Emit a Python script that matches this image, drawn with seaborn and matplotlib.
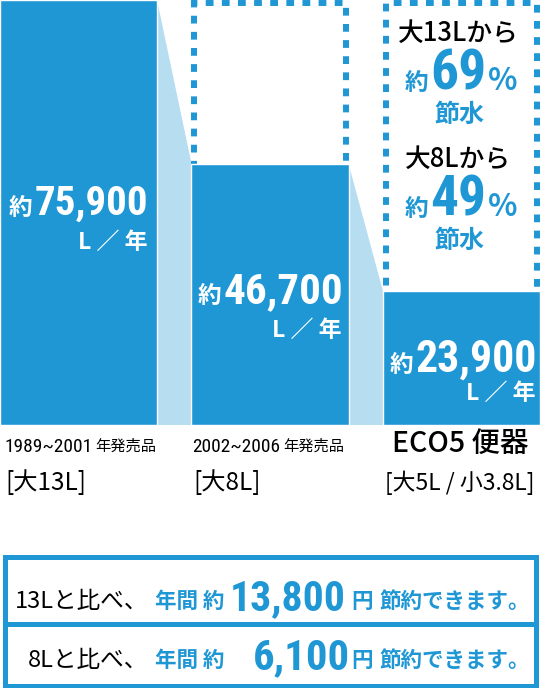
import os
import matplotlib
matplotlib.use("Agg")
import matplotlib.pyplot as plt
from matplotlib import font_manager
from matplotlib.font_manager import FontProperties
from matplotlib.patches import Rectangle
import pandas as pd
import seaborn as sns

# data
products = ["1989~2001 年発売品", "2002~2006 年発売品", "ECO5 便器"]
tank_sizes = ["[大13L]", "[大8L]", "[大5L / 小3.8L]"]
water_per_year = [75900, 46700, 23900]
number_labels = ["75,900", "46,700", "23,900"]
saving_from = ["大13Lから", "大8Lから"]
saving_pct = ["69", "49"]
compare_text = ["13Lと比べ、", "8Lと比べ、"]
yen_saved = ["13,800", "6,100"]

BLUE = "#2097d5"
LIGHT = "#b7ddf1"
W, H = 540, 688
BAR_W = 0.82
PX = water_per_year[0] / 425  # data units per pixel

CJK = "Noto Sans CJK JP"


def find_font(prefs, bold):
    files = {}
    for f in font_manager.fontManager.ttflist:
        files[os.path.basename(f.fname).rsplit(".", 1)[0]] = f.fname
    for p in prefs:
        if p in files:
            return FontProperties(fname=files[p])
    for name, path in files.items():
        n = name.lower()
        if ("condensed" in n or "narrow" in n) and "italic" not in n:
            if bold == ("bold" in n and "semi" not in n and "extra" not in n):
                return FontProperties(fname=path)
    return FontProperties(family="Roboto", weight="bold" if bold else "normal")


NARROW_B = find_font(["RobotoCondensed-Bold", "NotoSans-CondensedBold",
                      "LiberationSansNarrow-Bold", "OpenSans-CondensedBold",
                      "DejaVuSansCondensed-Bold"], True)
NARROW_R = find_font(["RobotoCondensed-Regular", "NotoSans-Condensed",
                      "LiberationSansNarrow-Regular", "DejaVuSansCondensed"],
                     False)

sns.set_theme(style="white")
plt.rcParams["font.family"] = [CJK, "DejaVu Sans"]

fig = plt.figure(figsize=(W / 100, H / 100), dpi=100)
ax = fig.add_axes([0, (H - 425) / H, 1, 425 / H])

df = pd.DataFrame({"product": products, "water": water_per_year})
sns.barplot(data=df, x="product", y="water", color=BLUE, saturation=1,
            width=BAR_W, ax=ax, zorder=3)
ax.set_xlim(-0.41, 2.41)
ax.set_ylim(0, water_per_year[0])
ax.axis("off")

# light connectors between bars
for i in range(len(water_per_year) - 1):
    x0 = i + BAR_W / 2
    x1 = i + 1 - BAR_W / 2
    ax.fill([x0, x1, x1, x0], [water_per_year[i], water_per_year[i + 1], 0, 0],
            color=LIGHT, zorder=1, lw=0)

# dashed outlines above bars 2 and 3
ins = 3 / 191.5
top = water_per_year[0] - 3 * PX
for i in (1, 2):
    y0 = water_per_year[i] - 6 * PX
    ax.add_patch(Rectangle((i - BAR_W / 2 + ins, y0), BAR_W - 2 * ins,
                           top - y0, fill=False, edgecolor=BLUE, lw=4.3,
                           linestyle=(0, (1.3, 1.4)), zorder=2, clip_on=False))

renderer = fig.canvas.get_renderer()


def put(x, y, s, size, color="black", weight="normal", family=None,
        ha="left", va="baseline"):
    if isinstance(family, FontProperties):
        fp = family.copy()
        fp.set_size(size)
        return fig.text(x / W, 1 - y / H, s, fontproperties=fp, color=color,
                        ha=ha, va=va)
    return fig.text(x / W, 1 - y / H, s, fontsize=size, color=color,
                    fontweight=weight, family=[CJK, "DejaVu Sans"],
                    ha=ha, va=va)


def fit(t, width):
    w = t.get_window_extent(renderer).width
    if w > width:
        t.set_fontsize(t.get_fontsize() * width / w)
    return t


def run(x, y, parts, ha="left", gap=2):
    # parts: (text, size, color, weight, family, fit width)
    texts = []
    for p in parts:
        t = put(0, y, *p[:5])
        if len(p) > 5:
            fit(t, p[5])
        texts.append(t)
    widths = [t.get_window_extent(renderer).width for t in texts]
    total = sum(widths) + gap * (len(parts) - 1)
    if ha == "right":
        x = x - total
    elif ha == "center":
        x = x - total / 2
    for t, w in zip(texts, widths):
        t.set_x(x / W)
        x += w + gap
    return texts


# values on bars
num_pos = [(148, 215, 249, 114), (343, 303, 337, 120), (537, 372, 400, 122)]
for lbl, (xr, yb, ly, wd) in zip(number_labels, num_pos):
    run(xr, yb, [("約", 17, "white", "bold", None),
                 (lbl, 38, "white", "bold", NARROW_B, wd)],
        ha="right", gap=2)
    put(xr - 1, ly, "L ／ 年", 16.5, "white", "bold", ha="right")

# saving text inside the dashed box of bar 3
for k, (src, pct) in enumerate(zip(saving_from, saving_pct)):
    y0 = 0 if k == 0 else 126
    put(458, y0 + 41, src, 18.5, "black", "medium", ha="center")
    run(461, y0 + 90, [("約", 17, BLUE, "bold", None),
                       (pct, 46, BLUE, "bold", NARROW_B, 56),
                       ("%", 22, BLUE, "bold", None)], ha="center", gap=2)
    put(459, y0 + 122, "節水", 18, BLUE, "bold", ha="center")

# category labels
lab_x = [4, 192, 384]
for k, (p, t, x) in enumerate(zip(products, tank_sizes, lab_x)):
    if k < 2:
        yrs, kind = p.split(" ", 1)
        ty = put(x, 452, yrs, 15.5, "black", "normal", NARROW_R)
        fit(ty, 88)
        wy = ty.get_window_extent(renderer).width
        put(x + wy + 3, 451, kind, 11, "black", "normal")
    else:
        put(x + 8, 452, p, 20.5, "black", "medium")
    fit(put(x + 1, 490, t, 17.5, "black", "normal"), 150)

# bottom summary box
fig.add_artist(Rectangle((4.5 / W, 1 - 685.5 / H), 531 / W, 129 / H,
                         transform=fig.transFigure, fill=False,
                         edgecolor=BLUE, lw=3.6))
fig.add_artist(Rectangle((4.5 / W, 1 - 623.5 / H), 531 / W, 0,
                         transform=fig.transFigure, fill=False,
                         edgecolor=BLUE, lw=3.6))

rows = [(610, 346, 116), (669, 350, 97)]
for cmp_, yen, (yb, xr, wd) in zip(compare_text, yen_saved, rows):
    put(148, yb - 2, cmp_, 17, "black", "normal", ha="right")
    put(155, yb - 2, "年間 約", 15.5, BLUE, "bold")
    fit(put(xr, yb, yen, 38, BLUE, "bold", NARROW_B, ha="right"), wd)
    put(351, yb - 2, "円", 15.5, BLUE, "bold")
    put(379, yb - 2, "節約できます。", 15.5, BLUE, "bold")

fig.savefig("out.png", dpi=100)
